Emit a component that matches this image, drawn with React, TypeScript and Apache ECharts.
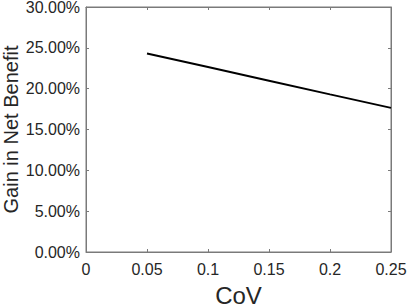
import React, { useEffect, useRef } from "react";
import * as echarts from "echarts";

const covValues = [0.05, 0.1, 0.15, 0.2, 0.25];
const gainPercent = [24.3, 22.65, 20.98, 19.3, 17.65];
const xTicks = [0, 0.05, 0.1, 0.15, 0.2, 0.25];
const yTicks = [0, 5, 10, 15, 20, 25, 30];

const FONT = "'Liberation Sans', Arial, Helvetica, sans-serif";
const AXIS_COLOR = "#7a7a7a";
const TEXT_COLOR = "#262626";

export default function App() {
  const ref = useRef<HTMLDivElement>(null);
  useEffect(() => {
    if (!ref.current) return;
    const chart = echarts.init(ref.current, undefined, { renderer: "svg" });
    const hiddenAxisCommon = {
      show: true,
      axisLine: { show: true, onZero: false, lineStyle: { color: AXIS_COLOR, width: 1 } },
      axisTick: { show: true, inside: true, length: 3, lineStyle: { color: AXIS_COLOR } },
      axisLabel: { show: false },
      splitLine: { show: false },
    };
    chart.setOption({
      animation: false,
      backgroundColor: "#ffffff",
      grid: {
        left: 86,
        right: 16,
        top: 7,
        bottom: 55,
        containLabel: false,
        outerBoundsMode: "none",
        show: true,
        borderColor: AXIS_COLOR,
        borderWidth: 1,
        backgroundColor: "transparent",
      },
      xAxis: [
        {
          type: "value",
          min: xTicks[0],
          max: xTicks[xTicks.length - 1],
          interval: 0.05,
          position: "bottom",
          name: "CoV",
          nameLocation: "middle",
          nameGap: 31,
          nameMoveOverlap: false,
          nameTextStyle: { fontFamily: FONT, fontSize: 24, color: TEXT_COLOR },
          axisLine: { show: true, onZero: false, lineStyle: { color: AXIS_COLOR, width: 1 } },
          axisTick: { show: true, inside: true, length: 3, lineStyle: { color: AXIS_COLOR } },
          axisLabel: {
            fontFamily: FONT,
            fontSize: 16,
            color: TEXT_COLOR,
            margin: 9,
            formatter: (v: number) => String(Math.round(v * 100) / 100),
          },
          splitLine: { show: false },
        },
        {
          type: "value",
          min: xTicks[0],
          max: xTicks[xTicks.length - 1],
          interval: 0.05,
          position: "top",
          ...hiddenAxisCommon,
        },
      ],
      yAxis: [
        {
          type: "value",
          min: yTicks[0],
          max: yTicks[yTicks.length - 1],
          interval: 5,
          position: "left",
          name: "Gain in Net Benefit",
          nameLocation: "middle",
          nameGap: 65,
          nameMoveOverlap: false,
          nameTextStyle: { fontFamily: FONT, fontSize: 20, color: TEXT_COLOR },
          axisLine: { show: true, onZero: false, lineStyle: { color: AXIS_COLOR, width: 1 } },
          axisTick: { show: true, inside: true, length: 3, lineStyle: { color: AXIS_COLOR } },
          axisLabel: {
            fontFamily: FONT,
            fontSize: 16,
            color: TEXT_COLOR,
            margin: 6,
            formatter: (v: number) => v.toFixed(2) + "%",
          },
          splitLine: { show: false },
        },
        {
          type: "value",
          min: yTicks[0],
          max: yTicks[yTicks.length - 1],
          interval: 5,
          position: "right",
          ...hiddenAxisCommon,
        },
      ],
      series: [
        {
          type: "line",
          data: covValues.map((c, i) => [c, gainPercent[i]]),
          showSymbol: false,
          symbol: "none",
          lineStyle: { color: "#000000", width: 2 },
          xAxisIndex: 0,
          yAxisIndex: 0,
        },
      ],
    });
    return () => chart.dispose();
  }, []);
  return (
    <div
      ref={ref}
      style={{ position: "fixed", left: 0, top: 0, width: 407, height: 307 }}
    />
  );
}
